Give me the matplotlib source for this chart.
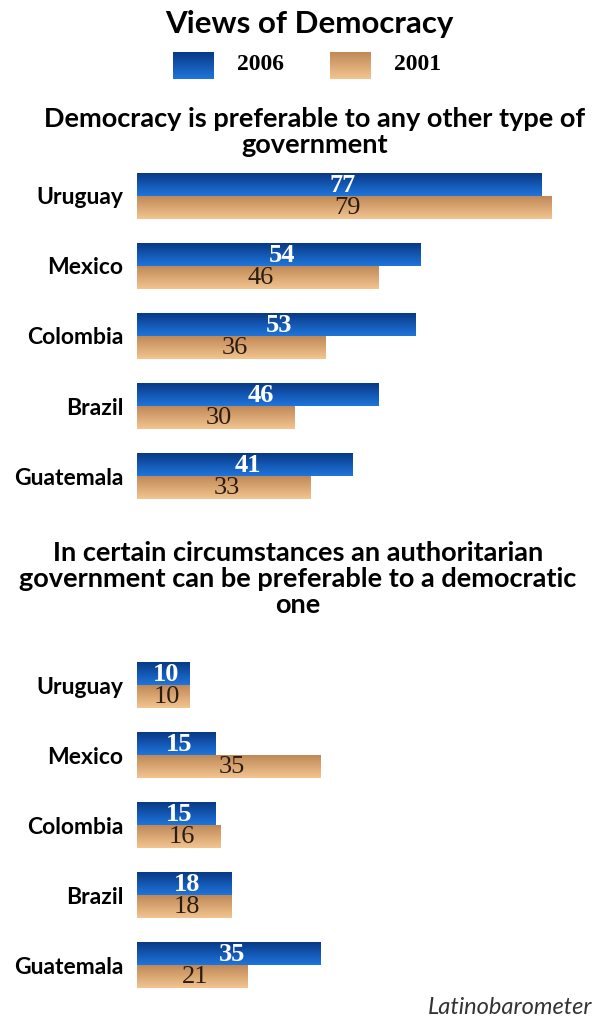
import matplotlib.pyplot as plt
import numpy as np

countries = ['Uruguay', 'Mexico', 'Colombia', 'Brazil', 'Guatemala']
pref_2006 = [77, 54, 53, 46, 41]
pref_2001 = [79, 46, 36, 30, 33]
auth_2006 = [10, 15, 15, 18, 35]
auth_2001 = [10, 35, 16, 18, 21]

W, H = 595, 1022
FONT = ['Lato', 'DejaVu Sans']
NUMFONT = ['Liberation Serif', 'DejaVu Serif']

blue_grad = ['#083a86', '#1f74dc']
tan_grad = ['#c08a58', '#f3c48f']


def fig_rect(x0, y0, x1, y1):
    # pixel box -> figure fraction [left, bottom, width, height]
    return [x0 / W, 1 - y1 / H, (x1 - x0) / W, (y1 - y0) / H]


def gradient(colors):
    a = np.array(plt.matplotlib.colors.to_rgb(colors[0]))
    b = np.array(plt.matplotlib.colors.to_rgb(colors[1]))
    t = np.linspace(0, 1, 32)[:, None]
    return (a * (1 - t) + b * t)[:, None, :]


def grad_bar(ax, y, val, h, colors):
    bar = ax.barh(y, val, height=h, color='none', edgecolor='none')[0]
    im = ax.imshow(gradient(colors), extent=(0, val, y + h / 2, y - h / 2),
                   aspect='auto', interpolation='bilinear', zorder=2)
    im.set_clip_path(bar)
    return bar


def section(ax, v06, v01):
    n = len(countries)
    h = 23 / 70
    for i in range(n):
        grad_bar(ax, i - h / 2, v06[i], h, blue_grad)
        grad_bar(ax, i + h / 2, v01[i], h, tan_grad)
        ax.text(v06[i] / 2 + 0.6, i - h / 2 + 0.01, str(v06[i]), ha='center', va='center',
                color='white', fontsize=19, fontweight='bold', family=NUMFONT, zorder=3)
        ax.text(v01[i] / 2 + 0.6, i + h / 2 + 0.01, str(v01[i]), ha='center', va='center',
                color='#2a1c12', fontsize=19, family=NUMFONT, zorder=3)
    ax.set_xlim(0, (W - 137) / 5.25)
    ax.set_ylim(n - 0.5, -0.5)
    ax.set_yticks(range(n))
    ax.set_yticklabels(countries, fontsize=16.5, fontweight='bold', family=FONT)
    ax.tick_params(axis='y', length=0, pad=10)
    ax.set_xticks([])
    for s in ax.spines.values():
        s.set_visible(False)


fig = plt.figure(figsize=(W / 100, H / 100), dpi=100)

ax1 = fig.add_axes(fig_rect(137, 161, W, 511))
section(ax1, pref_2006, pref_2001)
ax2 = fig.add_axes(fig_rect(137, 650, W, 1000))
section(ax2, auth_2006, auth_2001)

fig.text(309 / W, 1 - 24 / H, 'Views of Democracy', ha='center', va='center',
         fontsize=22.5, fontweight='bold', family=FONT)

# legend
lax = fig.add_axes(fig_rect(0, 40, W, 90))
for x0, label, cols in [(173, '2006', blue_grad), (330, '2001', tan_grad)]:
    lax.imshow(gradient(cols), extent=(x0, x0 + 41, 79, 52),
               aspect='auto', interpolation='bilinear')
    lax.text(x0 + 64, 65, label, ha='left', va='center', fontsize=17,
             fontweight='bold', family=NUMFONT)
lax.set_xlim(0, W)
lax.set_ylim(90, 40)
lax.axis('off')

fig.text(315 / W, 1 - 132 / H, 'Democracy is preferable to any other type of\ngovernment',
         ha='center', va='center', fontsize=19.5, fontweight='bold', family=FONT,
         linespacing=1.1)
fig.text(298 / W, 1 - 579 / H,
         'In certain circumstances an authoritarian\ngovernment can be preferable to a democratic\none',
         ha='center', va='center', fontsize=19.5, fontweight='bold', family=FONT,
         linespacing=1.1)
fig.text(592 / W, 1 - 1008 / H, 'Latinobarometer', ha='right', va='center',
         fontsize=17, style='italic', family=FONT, color='#333333')

fig.savefig('out.png', dpi=100)
